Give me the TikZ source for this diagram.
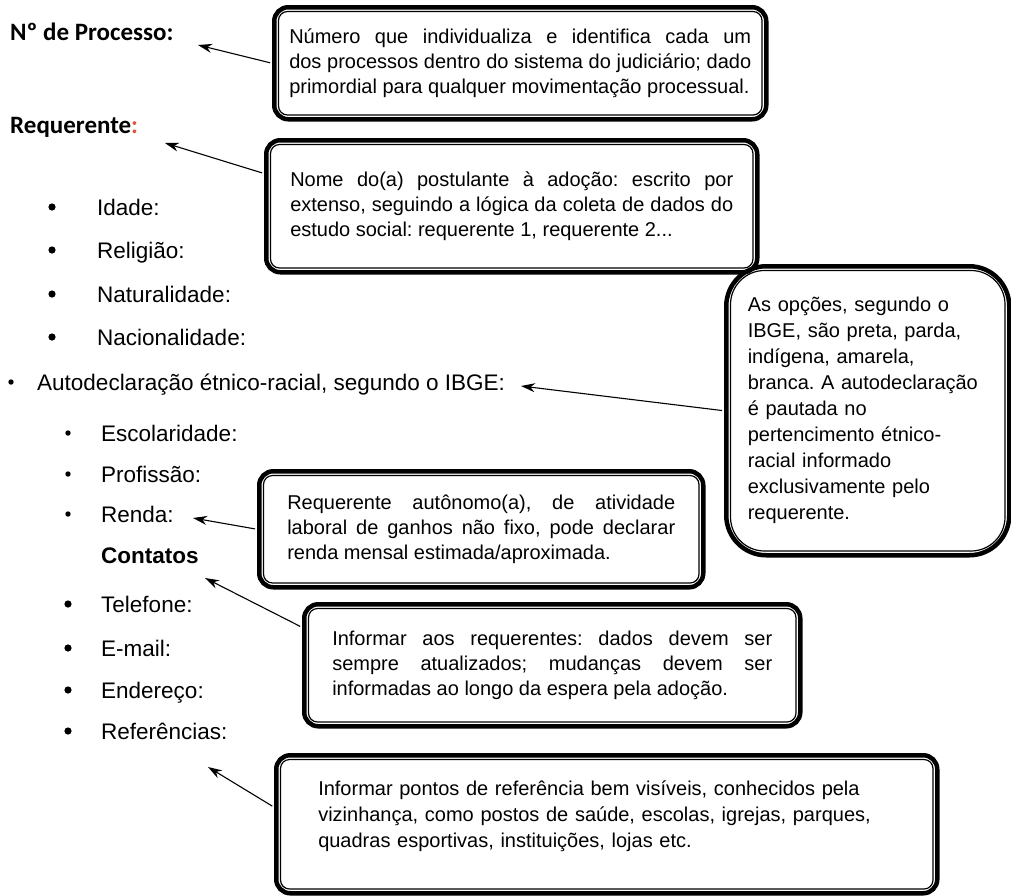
\documentclass[tikz,border=0pt]{standalone}
\usepackage{fontspec}
\setmainfont{Liberation Sans}
\newfontfamily\headfont{Carlito}
\usetikzlibrary{arrows.meta,calc}
\definecolor{colonred}{RGB}{226,80,60}
\frenchspacing
% thin line inside a box border
\newcommand{\innerframe}[2]{\draw[line width=1.2pt,rounded corners=#2]
  ([shift={(6.5,6.5)}]#1.north west) rectangle ([shift={(-6.5,-6.5)}]#1.south east);}

\begin{document}
\begin{tikzpicture}[x=1pt,y=-1pt,
    head/.style={font=\headfont\bfseries\fontsize{25}{29}\selectfont,anchor=base west,inner sep=0},
    item/.style={font=\fontsize{22.5}{26}\selectfont,anchor=base west,inner sep=0},
    notebox/.style={draw,line width=4.5pt,rounded corners=14pt,anchor=north west,
      inner ysep=0,font=\fontsize{20}{25}\selectfont},
    pointer/.style={-{Stealth[length=14pt,width=9pt]},line width=1.1pt,shorten <=2pt}]
    \useasboundingbox (0,0) rectangle (1011,895);
    % headings
    \node[head] (proc) at (10,40) {Nº de Processo:};
    \node[head] (req) at (10,133) {Requerente\textcolor{colonred}{:}};
    % first list
    \fill (52,207) circle (3.6);
    \node[item] (idade) at (97,215) {Idade:};
    \fill (52,250) circle (3.6);
    \node[item] (relig) at (97,258) {Religião:};
    \fill (52,294) circle (3.6);
    \node[item] (natur) at (97,302) {Naturalidade:};
    \fill (52,337) circle (3.6);
    \node[item] (nacio) at (97,345) {Nacionalidade:};
    \fill (11,382) circle (2.7);
    \node[item] (autod) at (37,390) {Autodeclaração étnico-racial, segundo o IBGE:};
    % second list
    \fill (68,433) circle (2.7);
    \node[item] (escol) at (101,441) {Escolaridade:};
    \fill (68,474) circle (2.7);
    \node[item] (profi) at (101,482) {Profissão:};
    \fill (68,514) circle (2.7);
    \node[item] (renda) at (101,522) {Renda:};
    \node[item,font=\bfseries\fontsize{22.5}{26}\selectfont] (conta) at (101,563) {Contatos};
    \fill (68,604) circle (3.6);
    \node[item] (telef) at (101,612) {Telefone:};
    \fill (68,648) circle (3.6);
    \node[item] (email) at (101,656) {E-mail:};
    \fill (68,690) circle (3.6);
    \node[item] (ender) at (101,698) {Endereço:};
    \fill (68,731) circle (3.6);
    \node[item] (refer) at (101,739) {Referências:};
    % note boxes
    \node[notebox,align=justify,minimum width=492,minimum height=112,text width=462,inner xsep=15]
      (b1) at (272,5) {Número que individualiza e identifica cada um\linebreak
      dos processos dentro do sistema do judiciário; dado\linebreak
      primordial para qualquer movimentação processual.};
    \innerframe{b1}{9pt}
    \node[notebox,align=justify,minimum width=491,minimum height=132,text width=443,inner xsep=24]
      (b2) at (264,138) {Nome do(a) postulante à adoção: escrito por\linebreak
      extenso, seguindo a lógica da coleta de dados do\linebreak
      estudo social: requerente 1, requerente 2...};
    \innerframe{b2}{9pt}
    \node[notebox,align=left,rounded corners=40pt,minimum width=283,minimum height=289,text width=240,
      font=\fontsize{20}{26}\selectfont]
      (b3) at (724,264) {As opções, segundo o\\ IBGE, são preta, parda,\\ indígena, amarela,\\
      branca. A autodeclaração\\ é pautada no\\ pertencimento étnico-\\ racial informado\\
      exclusivamente pelo\\ requerente.};
    \innerframe{b3}{34pt}
    \node[notebox,align=justify,minimum width=444,minimum height=116,text width=388,inner xsep=28]
      (b4) at (257,469) {Requerente autônomo(a), de atividade\linebreak
      laboral de ganhos não fixo, pode declarar\linebreak
      renda mensal estimada/aproximada.};
    \innerframe{b4}{9pt}
    \node[notebox,align=justify,minimum width=496,minimum height=122,text width=440,inner xsep=28]
      (b5) at (302,602) {Informar aos requerentes: dados devem ser\linebreak
      sempre atualizados; mudanças devem ser\linebreak
      informadas ao longo da espera pela adoção.};
    \innerframe{b5}{9pt}
    \node[notebox,align=left,minimum width=661,minimum height=138,text width=577,inner xsep=42,
      font=\fontsize{20}{26}\selectfont]
      (b6) at (274,753) {Informar pontos de referência bem visíveis, conhecidos pela\\
      vizinhança, como postos de saúde, escolas, igrejas, parques,\\
      quadras esportivas, instituições, lojas etc.\rule[-20pt]{0pt}{1pt}};
    \innerframe{b6}{9pt}
    % arrows
    \coordinate (procTip) at (198,45);
    \coordinate (reqTip) at (165,143);
    \coordinate (autodTip) at (521,386);
    \coordinate (rendaTip) at (193,518);
    \coordinate (contaTip) at (205,578);
    \coordinate (referTip) at (208,767);
    \draw[pointer] (b1.west) -- (procTip);
    \draw[pointer] ($(b2.north west)!0.26!(b2.south west)$) -- (reqTip);
    \draw[pointer] (b3.west) -- (autodTip);
    \draw[pointer] (b4.west) -- (rendaTip);
    \draw[pointer] ($(b5.north west)!0.2!(b5.south west)$) -- (contaTip);
    \draw[pointer] ($(b6.north west)!0.38!(b6.south west)$) -- (referTip);
\end{tikzpicture}
\end{document}
